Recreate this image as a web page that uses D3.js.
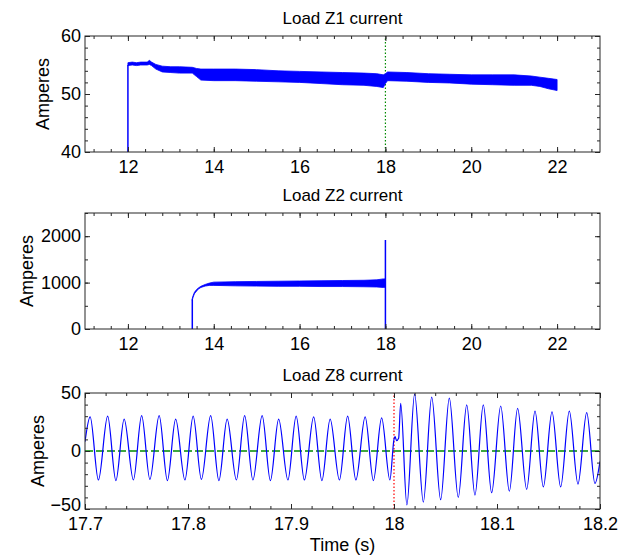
<!DOCTYPE html>
<html>
<head>
<meta charset="utf-8">
<script src="https://cdn.jsdelivr.net/npm/d3@7"></script>
<style>
  html, body { margin: 0; padding: 0; background: #fff; }
  svg { display: block; font-family: "Liberation Sans", Arial, Helvetica, sans-serif; }
</style>
</head>
<body>
<script>
// Load Z1 current: envelope of the noisy band (upper / lower edge)
var z1Time  = [12.0, 12.1, 12.2, 12.3, 12.45, 12.5, 12.55, 12.65, 12.8, 13.0, 13.2, 13.5, 13.6, 13.7, 14.0, 14.5, 15.0, 15.5, 16.0, 16.5, 17.0, 17.5, 17.8, 17.95, 18.0, 18.05, 18.5, 19.0, 19.5, 20.0, 20.5, 21.0, 21.4, 21.6, 21.8, 22.0];
var z1Upper = [55.4, 55.5, 55.4, 55.5, 55.5, 55.8, 55.5, 55.1, 54.8, 54.7, 54.7, 54.6, 54.4, 54.3, 54.3, 54.3, 54.2, 54.0, 53.9, 53.8, 53.7, 53.6, 53.5, 53.3, 53.5, 53.8, 53.7, 53.5, 53.4, 53.3, 53.3, 53.3, 53.1, 52.9, 52.7, 52.5];
var z1Lower = [54.9, 55.0, 54.9, 55.0, 55.0, 55.1, 54.9, 54.3, 53.8, 53.7, 53.6, 53.6, 53.0, 52.4, 52.3, 52.3, 52.2, 52.1, 52.0, 51.8, 51.6, 51.5, 51.3, 51.1, 51.8, 52.3, 52.2, 52.0, 51.9, 51.7, 51.6, 51.5, 51.5, 51.3, 50.9, 50.6];
var z1StepTime = [12, 12];
var z1StepAmps = [40, 55.0];

// Load Z2 current
var z2Time  = [13.5, 13.52, 13.55, 13.6, 13.65, 13.7, 13.8, 13.9, 14.0, 14.5, 15.0, 15.5, 16.0, 16.5, 17.0, 17.5, 17.8, 17.95, 18.0];
var z2Upper = [660, 720, 790, 850, 890, 920, 960, 990, 1010, 1020, 1025, 1030, 1035, 1040, 1045, 1050, 1060, 1080, 1080];
var z2Lower = [620, 690, 760, 820, 865, 895, 925, 940, 940, 930, 925, 920, 920, 915, 915, 910, 905, 895, 900];
var z2StepTime = [13.5, 13.5];
var z2StepAmps = [0, 640];
var z2SpikeTime = [18, 18, 18];
var z2SpikeAmps = [1000, 1920, 0];

// Load Z8 current: peaks and troughs of the waveform
var z8Time = [17.700, 17.705, 17.713, 17.722, 17.730, 17.738, 17.747, 17.755, 17.763, 17.772, 17.780,
  17.788, 17.797, 17.805, 17.813, 17.822, 17.830, 17.838, 17.847, 17.855, 17.863, 17.872, 17.880,
  17.888, 17.897, 17.905, 17.913, 17.922, 17.930, 17.938, 17.947, 17.955, 17.963, 17.972, 17.980,
  17.988, 17.996, 18.000, 18.001, 18.0025, 18.0045, 18.0065, 18.0125, 18.0200, 18.0285, 18.0366,
  18.0453, 18.0537, 18.0624, 18.0706, 18.0786, 18.0867, 18.0948, 18.1036, 18.1120, 18.1200, 18.1288,
  18.1369, 18.1450, 18.1534, 18.1618, 18.1702, 18.1786, 18.1871, 18.1951, 18.2000];
var z8Amps = [8, 29.5, -25, 30, -25.5, 27.5, -25, 30.5, -24.5, 30.5, -25.5,
  27.5, -25, 30, -24.5, 30.5, -25.5, 27.5, -25, 30.5, -25, 30.5, -25.5,
  27.5, -25, 30, -25, 29.5, -25.5, 27.5, -25, 30, -25, 29.5, -25.5,
  28.5, -25, 10, 12.5, 9, 11, 41, -46.5, 49, -44, 46.5,
  -42, 45.6, -40, 39.7, -38, 39.7, -36, 38.8, -34.7, 36.8, -33,
  34.4, -31, 33.8, -31, 34.4, -28.5, 33, -28, -9];

var titles = ["Load Z1 current", "Load Z2 current", "Load Z8 current"];
var loadTicks = [12, 14, 16, 18, 20, 22];
var z8Ticks = [17.7, 17.8, 17.9, 18.0, 18.1, 18.2];
var z8TickLabels = ["17.7", "17.8", "17.9", "18", "18.1", "18.2"];
var z1YTicks = [40, 50, 60];
var z2YTicks = [0, 1000, 2000];
var z8YTicks = [-50, 0, 50];

var width = 625, height = 557;
var left = 85, right = 600;
var blue = "#0000ff", green = "#008a00", red = "#ff0000", axisColor = "#262626";

var svg = d3.select("body").append("svg")
  .attr("width", width)
  .attr("height", height);

function makePanel(idx, top, bottom, xDomain, yDomain, opts) {
  var x = d3.scaleLinear().domain(xDomain).range([left, right]);
  var y = d3.scaleLinear().domain(yDomain).range([bottom, top]);
  var g = svg.append("g");

  g.append("clipPath").attr("id", "clip" + idx)
    .append("rect").attr("x", left).attr("y", top)
    .attr("width", right - left).attr("height", bottom - top);

  var plot = g.append("g").attr("clip-path", "url(#clip" + idx + ")");

  // axes with inward ticks, major + minor, on all four sides
  function styleAxis(a) {
    a.select(".domain").remove();
    a.attr("font-size", null).attr("font-family", null);
    a.selectAll("line").attr("stroke", axisColor);
    a.selectAll("text").attr("fill", "#000").style("font-size", "18px");
  }
  var xb = g.append("g").attr("transform", "translate(0," + bottom + ")")
    .call(d3.axisBottom(x).tickValues(opts.xMajor).tickSize(-5).tickPadding(8).tickFormat(opts.xFmt));
  styleAxis(xb);
  styleAxis(g.append("g").attr("transform", "translate(0," + bottom + ")")
    .call(d3.axisBottom(x).tickValues(opts.xMinor).tickSize(-3).tickFormat("")));
  styleAxis(g.append("g").attr("transform", "translate(0," + top + ")")
    .call(d3.axisTop(x).tickValues(opts.xMajor).tickSize(-5).tickFormat("")));
  styleAxis(g.append("g").attr("transform", "translate(0," + top + ")")
    .call(d3.axisTop(x).tickValues(opts.xMinor).tickSize(-3).tickFormat("")));

  var yl = g.append("g").attr("transform", "translate(" + left + ",0)")
    .call(d3.axisLeft(y).tickValues(opts.yMajor).tickSize(-5).tickPadding(4).tickFormat(d3.format("d")));
  styleAxis(yl);
  // the lowest y label sits a little higher, as in the reference
  if (opts.liftLowest) yl.selectAll("text").filter(function(d) { return d === opts.yMajor[0]; }).attr("dy", "0.1em");
  styleAxis(g.append("g").attr("transform", "translate(" + left + ",0)")
    .call(d3.axisLeft(y).tickValues(opts.yMinor).tickSize(-3).tickFormat("")));
  styleAxis(g.append("g").attr("transform", "translate(" + right + ",0)")
    .call(d3.axisRight(y).tickValues(opts.yMajor).tickSize(-5).tickFormat("")));
  styleAxis(g.append("g").attr("transform", "translate(" + right + ",0)")
    .call(d3.axisRight(y).tickValues(opts.yMinor).tickSize(-3).tickFormat("")));

  g.append("rect")
    .attr("x", left).attr("y", top)
    .attr("width", right - left).attr("height", bottom - top)
    .attr("fill", "none").attr("stroke", axisColor).attr("stroke-width", 1);

  g.append("text")
    .attr("x", (left + right) / 2).attr("y", top - 12)
    .attr("text-anchor", "middle")
    .style("font-size", "17px")
    .text(titles[idx]);

  g.append("text")
    .attr("transform", "translate(" + opts.ylabelX + "," + (top + bottom) / 2 + ") rotate(-90)")
    .attr("text-anchor", "middle")
    .attr("dy", "0.35em")
    .style("font-size", "18px")
    .text("Amperes");

  return { x: x, y: y, plot: plot };
}

var fmtInt = d3.format("d");

// ---- panel 1
var p1 = makePanel(0, 36, 152, [11, 23], [40, 60], {
  xMajor: loadTicks, xMinor: d3.range(11.2, 23, 0.4), xFmt: fmtInt,
  yMajor: z1YTicks, yMinor: d3.range(40, 60.1, 2), ylabelX: 43
});
p1.plot.append("line")
  .attr("x1", p1.x(18)).attr("x2", p1.x(18))
  .attr("y1", p1.y(40)).attr("y2", p1.y(60))
  .attr("stroke", green).attr("stroke-width", 1.2).attr("stroke-dasharray", "1.5,2");
p1.plot.append("path")
  .datum(d3.range(z1Time.length))
  .attr("fill", blue).attr("stroke", blue).attr("stroke-width", 0.8)
  .attr("d", d3.area()
    .x(function(i) { return p1.x(z1Time[i]); })
    .y0(function(i) { return p1.y(z1Lower[i]); })
    .y1(function(i) { return p1.y(z1Upper[i]); }));
p1.plot.append("path")
  .datum(d3.range(z1StepTime.length))
  .attr("fill", "none").attr("stroke", blue).attr("stroke-width", 1.5)
  .attr("d", d3.line()
    .x(function(i) { return p1.x(z1StepTime[i]); })
    .y(function(i) { return p1.y(z1StepAmps[i]); }));

// ---- panel 2
var p2 = makePanel(1, 213, 329, [11, 23], [0, 2500], {
  xMajor: loadTicks, xMinor: d3.range(11.2, 23, 0.4), xFmt: fmtInt,
  yMajor: z2YTicks, yMinor: d3.range(0, 2501, 500), ylabelX: 27
});
p2.plot.append("path")
  .datum(d3.range(z2Time.length))
  .attr("fill", blue).attr("stroke", blue).attr("stroke-width", 0.8)
  .attr("d", d3.area()
    .x(function(i) { return p2.x(z2Time[i]); })
    .y0(function(i) { return p2.y(z2Lower[i]); })
    .y1(function(i) { return p2.y(z2Upper[i]); }));
[[z2StepTime, z2StepAmps], [z2SpikeTime, z2SpikeAmps]].forEach(function(s) {
  p2.plot.append("path")
    .datum(d3.range(s[0].length))
    .attr("fill", "none").attr("stroke", blue).attr("stroke-width", 1.5)
    .attr("d", d3.line()
      .x(function(i) { return p2.x(s[0][i]); })
      .y(function(i) { return p2.y(s[1][i]); }));
});

// ---- panel 3
var p3 = makePanel(2, 393, 509, [17.7, 18.2], [-50, 50], {
  xMajor: z8Ticks, xMinor: d3.range(17.7, 18.2001, 0.02),
  xFmt: function(d, i) { return z8TickLabels[i]; },
  yMajor: z8YTicks, yMinor: d3.range(-50, 50.1, 10), ylabelX: 38, liftLowest: true
});
p3.plot.append("line")
  .attr("x1", left).attr("x2", right)
  .attr("y1", p3.y(0)).attr("y2", p3.y(0))
  .attr("stroke", green).attr("stroke-width", 1.4).attr("stroke-dasharray", "8,3");
p3.plot.append("line")
  .attr("x1", p3.x(18)).attr("x2", p3.x(18))
  .attr("y1", p3.y(-50)).attr("y2", p3.y(50))
  .attr("stroke", red).attr("stroke-width", 1.2).attr("stroke-dasharray", "1.5,2");
p3.plot.append("path")
  .datum(d3.range(z8Time.length))
  .attr("fill", "none").attr("stroke", blue).attr("stroke-width", 1.2)
  .attr("d", d3.line()
    .curve(d3.curveMonotoneX)
    .x(function(i) { return p3.x(z8Time[i]); })
    .y(function(i) { return p3.y(z8Amps[i]); }));

svg.append("text")
  .attr("x", (left + right) / 2).attr("y", 551)
  .attr("text-anchor", "middle")
  .style("font-size", "18px")
  .text("Time (s)");
</script>
</body>
</html>
